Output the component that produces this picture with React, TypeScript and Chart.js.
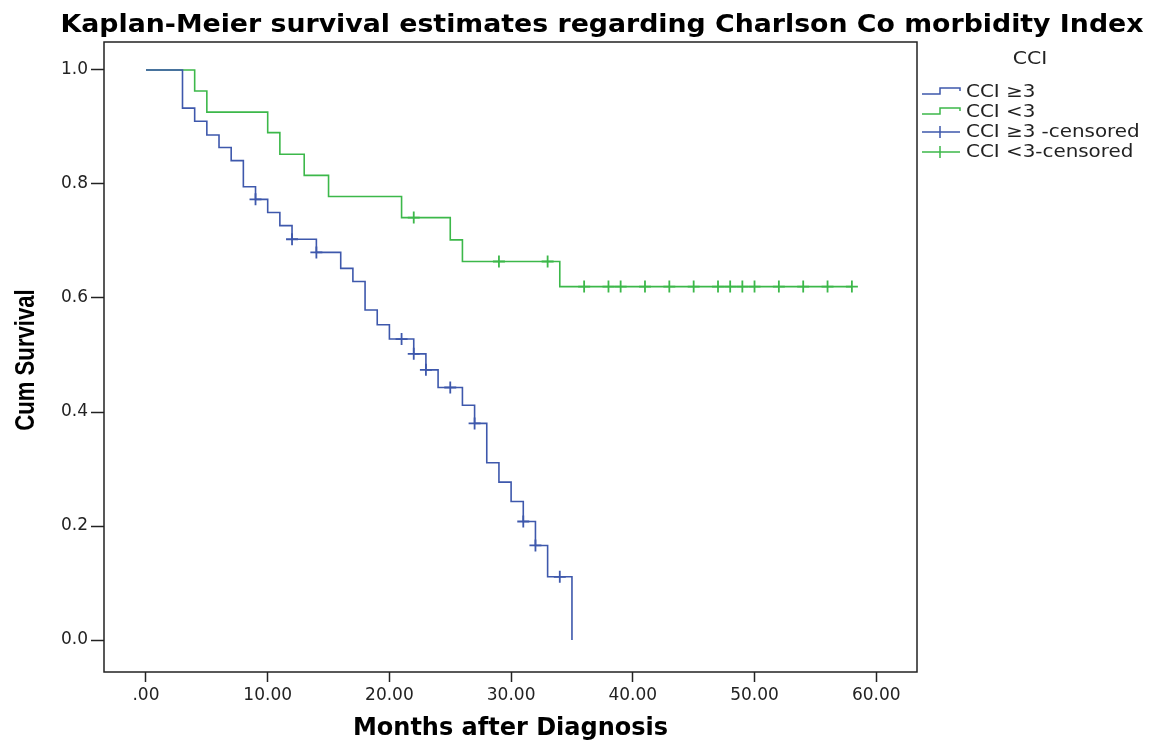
import { useEffect, useRef } from 'react';
import { Chart, registerables } from 'chart.js';

Chart.register(...registerables);

// ---------- text ----------
const TITLE = 'Kaplan-Meier survival estimates regarding Charlson Co morbidity Index';
const X_TITLE = 'Months after Diagnosis';
const Y_TITLE = 'Cum Survival';
const LEGEND_TITLE = 'CCI';
const SERIES_NAMES = ['CCI ≥3', 'CCI <3', 'CCI ≥3 -censored', 'CCI <3-censored'];

// ---------- ticks ----------
const xTickValues = [0, 10, 20, 30, 40, 50, 60];
const xTickLabels = ['.00', '10.00', '20.00', '30.00', '40.00', '50.00', '60.00'];
const yTickValues = [0, 0.2, 0.4, 0.6, 0.8, 1.0];
const yTickLabels = ['0.0', '0.2', '0.4', '0.6', '0.8', '1.0'];

// ---------- data: CCI >= 3 ----------
const highTimes = [0, 3, 4, 5, 6, 7, 8, 9, 10, 11, 12, 14, 16, 17, 18, 19, 20, 22, 23, 24, 26, 27, 28, 29, 30, 31, 32, 33, 35];
const highSurvival = [1.0, 0.933, 0.91, 0.886, 0.864, 0.841, 0.795, 0.773, 0.75, 0.727, 0.703, 0.68, 0.652, 0.629, 0.579, 0.553, 0.528, 0.502, 0.474, 0.443, 0.412, 0.38, 0.311, 0.277, 0.243, 0.208, 0.166, 0.111, 0.0];
const highCensorTimes = [9, 12, 14, 21, 22, 23, 25, 27, 31, 32, 34];
const highCensorSurvival = [0.773, 0.703, 0.68, 0.528, 0.502, 0.474, 0.443, 0.38, 0.208, 0.166, 0.111];

// ---------- data: CCI < 3 ----------
const lowTimes = [0, 4, 5, 10, 11, 13, 15, 21, 25, 26, 34, 58];
const lowSurvival = [1.0, 0.963, 0.926, 0.89, 0.852, 0.815, 0.778, 0.741, 0.702, 0.664, 0.62, 0.62];
const lowCensorTimes = [22, 29, 33, 36, 38, 39, 41, 43, 45, 47, 48, 49, 50, 52, 54, 56, 58];
const lowCensorSurvival = [0.741, 0.664, 0.664, 0.62, 0.62, 0.62, 0.62, 0.62, 0.62, 0.62, 0.62, 0.62, 0.62, 0.62, 0.62, 0.62, 0.62];

const BLUE = '#3e58ac';
const GREEN = '#3cb84a';
const TEXT = '#222222';

const pts = (xs: number[], ys: number[]) => xs.map((x, i) => ({ x, y: ys[i] }));

const stretchedText = (ctx: CanvasRenderingContext2D, text: string, x: number, y: number, sx: number) => {
  ctx.save();
  ctx.translate(x, y);
  ctx.scale(sx, 1);
  ctx.fillText(text, 0, 0);
  ctx.restore();
};

const decorPlugin = {
  id: 'decor',
  afterDraw(chart: any) {
    const { ctx, chartArea } = chart;
    const { left, right, top, bottom } = chartArea;
    ctx.save();
    // frame
    ctx.strokeStyle = '#222';
    ctx.lineWidth = 1.5;
    ctx.strokeRect(left, top, right - left, bottom - top);

    // title
    ctx.fillStyle = '#000';
    ctx.font = 'bold 24px "DejaVu Sans"';
    ctx.textAlign = 'center';
    ctx.textBaseline = 'alphabetic';
    stretchedText(ctx, TITLE, 602, 32, 1.115);

    // y-axis title (condensed, rotated)
    ctx.save();
    ctx.font = 'bold 27px "Liberation Sans", Arial, sans-serif';
    ctx.textBaseline = 'middle';
    ctx.translate(27, (top + bottom) / 2 + 3);
    ctx.rotate(-Math.PI / 2);
    ctx.scale(0.82, 1);
    ctx.fillText(Y_TITLE, 0, 0);
    ctx.restore();

    // legend
    ctx.font = '17px "DejaVu Sans"';
    ctx.fillStyle = TEXT;
    ctx.textBaseline = 'middle';
    stretchedText(ctx, LEGEND_TITLE, 1030, 60, 1.2);
    ctx.textAlign = 'left';
    const colors = [BLUE, GREEN, BLUE, GREEN];
    const x0 = 922;
    const x1 = 960;
    SERIES_NAMES.forEach((name, i) => {
      const y = 92 + i * 20;
      ctx.strokeStyle = colors[i];
      ctx.lineWidth = 1.5;
      ctx.beginPath();
      if (i < 2) {
        ctx.moveTo(x0, y + 2);
        ctx.lineTo(940, y + 2);
        ctx.lineTo(940, y - 4);
        ctx.lineTo(x1, y - 4);
        ctx.lineTo(x1, y - 1);
      } else {
        ctx.moveTo(x0, y);
        ctx.lineTo(x1, y);
        ctx.moveTo(940, y - 6);
        ctx.lineTo(940, y + 6);
      }
      ctx.stroke();
      ctx.fillStyle = TEXT;
      stretchedText(ctx, name, 966, y + 1, 1.17);
    });
    ctx.restore();
  },
};

export default function App() {
  const ref = useRef<HTMLCanvasElement | null>(null);

  useEffect(() => {
    if (!ref.current) return;
    const tickFont = { family: '"DejaVu Sans"', size: 17 };
    const chart = new Chart(ref.current, {
      type: 'scatter',
      data: {
        datasets: [
          {
            label: SERIES_NAMES[0],
            data: pts(highTimes, highSurvival),
            showLine: true,
            stepped: 'before',
            borderColor: BLUE,
            borderWidth: 1.6,
            pointRadius: 0,
            fill: false,
          },
          {
            label: SERIES_NAMES[1],
            data: pts(lowTimes, lowSurvival),
            showLine: true,
            stepped: 'before',
            borderColor: GREEN,
            borderWidth: 1.6,
            pointRadius: 0,
            fill: false,
          },
          {
            label: SERIES_NAMES[2],
            data: pts(highCensorTimes, highCensorSurvival),
            showLine: false,
            pointStyle: 'cross',
            pointRadius: 6,
            borderColor: BLUE,
            borderWidth: 1.8,
          },
          {
            label: SERIES_NAMES[3],
            data: pts(lowCensorTimes, lowCensorSurvival),
            showLine: false,
            pointStyle: 'cross',
            pointRadius: 6,
            borderColor: GREEN,
            borderWidth: 1.8,
          },
        ],
      } as any,
      options: {
        animation: false,
        responsive: false,
        events: [],
        layout: { padding: { top: 42, right: 236, left: 0, bottom: 0 } },
        plugins: {
          legend: { display: false },
          tooltip: { enabled: false },
          title: { display: false },
        },
        scales: {
          x: {
            type: 'linear',
            min: -3.45,
            max: 63.35,
            afterBuildTicks: (s: any) => {
              s.ticks = xTickValues.map((v) => ({ value: v }));
            },
            afterFit: (s: any) => {
              s.height = 72;
            },
            ticks: {
              callback: (_v: any, i: number) => xTickLabels[i],
              font: tickFont,
              color: TEXT,
              padding: 3,
              maxRotation: 0,
              autoSkip: false,
            },
            grid: {
              display: true,
              drawOnChartArea: false,
              drawTicks: true,
              tickLength: 10,
              tickColor: '#222',
              tickWidth: 1.5,
            },
            border: { display: false },
            title: {
              display: true,
              text: X_TITLE,
              color: '#000',
              font: { family: '"DejaVu Sans"', size: 24, weight: 'bold', lineHeight: 1 },
              padding: { top: 0, bottom: 3 },
            },
          },
          y: {
            type: 'linear',
            min: -0.056,
            max: 1.049,
            afterBuildTicks: (s: any) => {
              s.ticks = yTickValues.map((v) => ({ value: v }));
            },
            afterFit: (s: any) => {
              s.width = 104;
            },
            ticks: {
              callback: (_v: any, i: number) => yTickLabels[i],
              font: tickFont,
              color: TEXT,
              padding: 3,
              autoSkip: false,
            },
            grid: {
              display: true,
              drawOnChartArea: false,
              drawTicks: true,
              tickLength: 13,
              tickColor: '#222',
              tickWidth: 1.5,
            },
            border: { display: false },
            title: { display: false },
          },
        },
      } as any,
      plugins: [decorPlugin],
    });
    return () => chart.destroy();
  }, []);

  return (
    <div style={{ position: 'fixed', left: 0, top: 0, width: 1153, height: 744, background: '#fff' }}>
      <canvas ref={ref} width={1153} height={744} style={{ display: 'block' }} />
    </div>
  );
}
